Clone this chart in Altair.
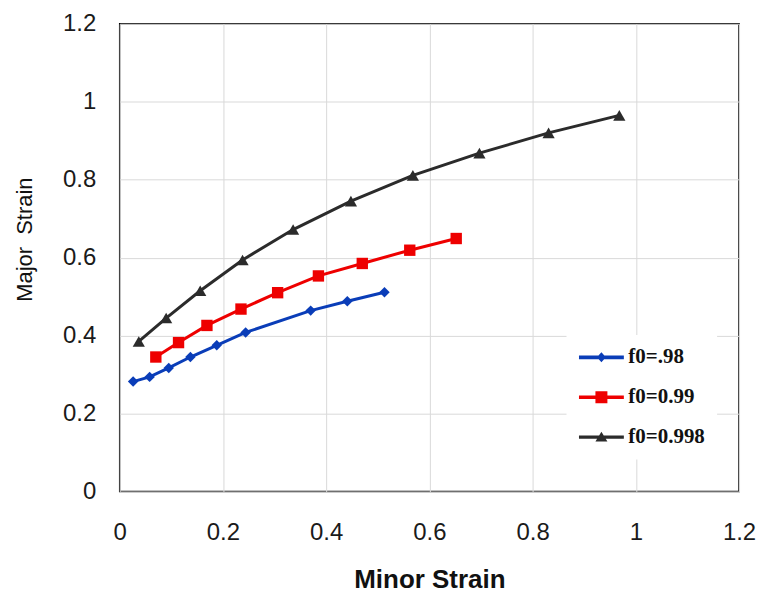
import altair as alt
import pandas as pd

series_names = ["f0=.98", "f0=0.99", "f0=0.998"]
colors = ["#0a3db8", "#ee0000", "#2b2b2b"]

minor_098 = [0.026, 0.058, 0.095, 0.137, 0.188, 0.244, 0.370, 0.441, 0.513]
major_098 = [0.282, 0.294, 0.317, 0.345, 0.375, 0.408, 0.464, 0.488, 0.511]

minor_099 = [0.070, 0.114, 0.169, 0.235, 0.306, 0.385, 0.470, 0.562, 0.652]
major_099 = [0.345, 0.382, 0.426, 0.468, 0.510, 0.553, 0.585, 0.619, 0.649]

minor_0998 = [0.037, 0.090, 0.156, 0.238, 0.336, 0.448, 0.568, 0.697, 0.831, 0.968]
major_0998 = [0.385, 0.445, 0.515, 0.594, 0.672, 0.745, 0.811, 0.868, 0.920, 0.965]

x_ticks = [0, 0.2, 0.4, 0.6, 0.8, 1, 1.2]
y_ticks = [0, 0.2, 0.4, 0.6, 0.8, 1, 1.2]

rows = []
for name, xs, ys in [(series_names[0], minor_098, major_098),
                     (series_names[1], minor_099, major_099),
                     (series_names[2], minor_0998, major_0998)]:
    for xv, yv in zip(xs, ys):
        rows.append({"series": name, "minor": xv, "major": yv})
df = pd.DataFrame(rows)

color_scale = alt.Scale(domain=series_names, range=colors)

# legend symbols: a line segment with the marker in its middle
leg_diamond = "M-1,-0.18L3.5,-0.18L3.5,0.18L-1,0.18Z M1.25,-0.5L1.7,0L1.25,0.5L0.8,0Z"
leg_square = "M-1,-0.18L3.5,-0.18L3.5,0.18L-1,0.18Z M0.65,-0.6L1.85,-0.6L1.85,0.6L0.65,0.6Z"
leg_triangle = "M-1,-0.16L3.5,-0.16L3.5,0.16L-1,0.16Z M1.25,-0.55L1.85,0.45L0.65,0.45Z"

x_enc = alt.X("minor:Q", scale=alt.Scale(domain=[0, 1.2], nice=False),
              axis=alt.Axis(values=x_ticks, format="~g", title="Minor Strain", labelPadding=29,
                            titlePadding=22, labelFlush=False))
y_enc = alt.Y("major:Q", scale=alt.Scale(domain=[0, 1.2], nice=False),
              axis=alt.Axis(values=y_ticks, format="~g", title="Major\u00a0 Strain", labelPadding=24,
                            titlePadding=26, titleY=216))

legend_props = dict(
    title=None, orient="none", legendX=448, legendY=312, padding=12,
    fillColor="white", symbolSize=400, symbolStrokeWidth=0, symbolOpacity=1,
    labelOffset=29, rowPadding=18, labelFont="Liberation Serif", labelFontSize=21,
    labelFontWeight="bold", labelColor="#111111", labelLimit=200,
)

lines = alt.Chart(df).mark_line().encode(
    x=x_enc, y=y_enc,
    color=alt.Color("series:N", scale=color_scale, legend=None),
    strokeWidth=alt.StrokeWidth("series:N", scale=alt.Scale(domain=series_names, range=[3, 3, 2.5]), legend=None),
)

points = alt.Chart(df).mark_point(filled=True, opacity=1).encode(
    x="minor:Q", y="major:Q",
    color=alt.Color("series:N", scale=color_scale, legend=None),
    shape=alt.Shape("series:N", scale=alt.Scale(domain=series_names, range=["diamond", "square", "triangle-up"]), legend=None),
    size=alt.Size("series:N", scale=alt.Scale(domain=series_names, range=[110, 150, 120]), legend=None),
)

legend_layer = alt.Chart(df).mark_point(filled=True, opacity=0).encode(
    x="minor:Q", y="major:Q",
    color=alt.Color("series:N", scale=color_scale, legend=alt.Legend(**legend_props)),
    shape=alt.Shape("series:N", scale=alt.Scale(domain=series_names, range=[leg_diamond, leg_square, leg_triangle]),
                    legend=alt.Legend(**legend_props)),
)

chart = alt.layer(lines, points, legend_layer).resolve_scale(
    color="independent", shape="independent", size="independent", strokeWidth="independent"
).properties(
    width=621, height=469,
    autosize=alt.AutoSizeParams(type="none"),
    padding={"left": 112, "top": 15, "right": 18, "bottom": 100},
    background="white",
).configure_view(
    stroke="black", strokeWidth=1.5
).configure_axis(
    grid=True, gridColor="#d9d9d9", gridWidth=1, ticks=False, domain=False,
    labelFont="Liberation Sans", labelFontSize=24, labelColor="#1a1a1a",
    titleFont="Liberation Sans", titleColor="#111111",
).configure_axisX(
    titleFontSize=26, titleFontWeight="bold",
).configure_axisY(
    titleFontSize=22, titleFontWeight="normal",
)

chart.save("out.html", embed_options={"renderer": "svg", "actions": False})
